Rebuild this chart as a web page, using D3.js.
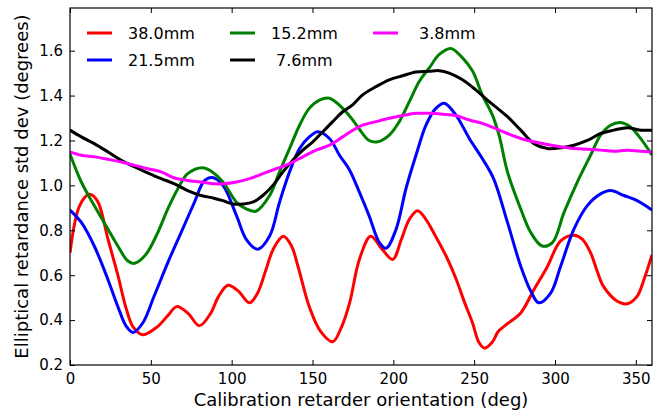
<!DOCTYPE html>
<html>
<head>
<meta charset="utf-8">
<script src="https://cdn.jsdelivr.net/npm/d3@7"></script>
<style>
  body { margin: 0; background: #fff; }
  text { font-family: "DejaVu Sans", sans-serif; }
</style>
</head>
<body>
<svg id="chart" width="660" height="416"></svg>
<script>
// --------------------------------------------------------------------------------------
// data: [orientation deg, std dev deg]
// --------------------------------------------------------------------------------------
var labels = ["38.0mm", "21.5mm", "15.2mm", " 7.6mm", " 3.8mm"];
var colors = ["#ff0000", "#0000ff", "#008000", "#000000", "#ff00ff"];

var red = [[0,0.70],[6,0.91],[12,0.96],[17,0.93],[23.5,0.76],[29.6,0.60],[34.8,0.45],[39,0.37],[45,0.335],
  [54,0.37],[60.5,0.42],[66,0.46],[73,0.43],[80,0.375],[87,0.43],[91.5,0.50],[97.7,0.555],[104,0.53],
  [111,0.477],[116,0.52],[121,0.62],[126,0.72],[132,0.773],[137,0.73],[141,0.64],[148,0.46],[155,0.35],
  [162.5,0.304],[168,0.37],[173,0.478],[179,0.67],[186,0.773],[193,0.716],[199.6,0.67],[205,0.76],
  [210,0.85],[215,0.887],[220,0.85],[226,0.775],[233,0.68],[239,0.58],[244,0.48],[249,0.387],[253,0.30],
  [256.5,0.275],[261,0.30],[265,0.35],[270.6,0.384],[278.8,0.432],[287,0.536],[295,0.634],[303.5,0.753],
  [311.7,0.778],[317,0.76],[322,0.70],[326,0.62],[330,0.55],[338.5,0.484],[344.7,0.473],[350.8,0.506],
  [355,0.58],[360,0.69]];

var blue = [[0,0.89],[7,0.835],[15,0.73],[23.5,0.58],[29.6,0.46],[34.8,0.372],[39,0.345],[45,0.387],
  [52,0.506],[60.5,0.656],[68.7,0.79],[77,0.925],[83,1.02],[88,1.035],[94.6,1.0],[103,0.865],[109,0.76],
  [116,0.716],[123.5,0.775],[129.6,0.925],[135.8,1.06],[142,1.164],[148,1.216],[153.3,1.239],[160.5,1.209],
  [166.7,1.134],[172.8,1.07],[179,0.97],[185,0.865],[191.4,0.745],[195.5,0.72],[201.7,0.805],[207.8,0.985],
  [214,1.134],[220.2,1.268],[226.3,1.343],[231.5,1.366],[238.7,1.313],[247,1.209],[255,1.12],[262,1.03],
  [270.6,0.835],[278.8,0.64],[285,0.529],[290,0.477],[297.3,0.52],[303.5,0.64],[311.7,0.805],[320,0.91],
  [328.2,0.962],[334.4,0.977],[342.6,0.955],[350.8,0.932],[360,0.89]];

var green = [[0,1.14],[7,1.015],[15,0.91],[23.5,0.805],[29.6,0.73],[35.8,0.663],[40,0.653],[47,0.693],
  [54.3,0.79],[60.5,0.895],[66.7,0.985],[72.8,1.052],[82,1.079],[88,1.06],[94.6,1.015],[103,0.925],
  [109,0.895],[115,0.885],[123.5,0.955],[129.6,1.06],[135.8,1.164],[142,1.268],[148,1.343],[154.3,1.38],
  [160.5,1.388],[168.7,1.343],[175,1.29],[179,1.25],[185,1.2],[190.3,1.194],[197.5,1.224],[203.7,1.284],
  [209.9,1.373],[216,1.463],[222.2,1.523],[228.4,1.583],[235.6,1.61],[242.8,1.568],[249,1.509],[255,1.403],
  [261.3,1.313],[265.4,1.224],[270.6,1.06],[278.8,0.895],[285,0.79],[292,0.73],[298.4,0.745],[305.6,0.88],
  [313.8,1.015],[322,1.134],[328.2,1.224],[334.4,1.268],[340.6,1.28],[346.7,1.26],[352.9,1.209],[360,1.135]];

var black = [[0,1.246],[7,1.216],[15,1.186],[23.5,1.149],[31.7,1.112],[40,1.082],[48,1.056],[56.4,1.03],
  [64.6,1.007],[72.8,0.977],[81,0.955],[89,0.943],[94.6,0.932],[100.8,0.917],[107,0.917],[113,0.925],
  [119.3,0.955],[125.5,1.0],[131.7,1.06],[137.8,1.112],[144,1.157],[150.2,1.194],[156.4,1.239],[162.5,1.284],
  [168.7,1.328],[175,1.36],[181,1.403],[189.3,1.44],[197.5,1.47],[205.7,1.488],[214,1.505],[222,1.508],
  [228.4,1.511],[234.6,1.5],[242.8,1.47],[251,1.425],[259.3,1.373],[265,1.34],[270.6,1.306],[278.8,1.246],
  [287,1.186],[295.3,1.164],[303.5,1.167],[311.7,1.179],[320,1.2],[328.2,1.231],[336.4,1.246],[344.7,1.257],
  [352.9,1.246],[360,1.246]];

var magenta = [[0,1.149],[7,1.134],[15,1.127],[23.5,1.116],[31.7,1.104],[40,1.089],[48,1.074],[56.4,1.06],
  [64.6,1.033],[72.8,1.022],[81,1.015],[89,1.007],[94.6,1.007],[103,1.015],[111,1.03],[119.3,1.052],
  [127.5,1.074],[135.8,1.097],[144,1.127],[152.3,1.157],[160.5,1.179],[168.7,1.216],[176,1.25],[181,1.268],
  [189.3,1.284],[197.5,1.299],[205.7,1.311],[214,1.321],[222,1.321],[230.5,1.317],[238.7,1.311],[247,1.291],
  [255,1.276],[263,1.254],[270.6,1.231],[278.8,1.209],[287,1.194],[295.3,1.182],[303.5,1.172],[311.7,1.164],
  [320,1.161],[328.2,1.157],[336.4,1.152],[344.7,1.157],[352.9,1.152],[360,1.149]];

var x_ticks = [0, 50, 100, 150, 200, 250, 300, 350];
var y_ticks = [0.2, 0.4, 0.6, 0.8, 1.0, 1.2, 1.4, 1.6];

var series = [red, blue, green, black, magenta];
// --------------------------------------------------------------------------------------

var margin = {top: 8, right: 8, bottom: 51, left: 70};
var width = 660 - margin.left - margin.right;
var height = 416 - margin.top - margin.bottom;

var x = d3.scaleLinear().domain([0, 360]).range([0, width]);
var y = d3.scaleLinear().domain([0.2, 1.79]).range([height, 0]);

var svg = d3.select("#chart")
            .append("g")
            .attr("transform", "translate(" + margin.left + "," + margin.top + ")");

// ==================================================
// lines
var line = d3.line()
             .x(function(d) { return x(d[0]); })
             .y(function(d) { return y(d[1]); })
             .curve(d3.curveCatmullRom.alpha(0.5));

svg.append("defs").append("clipPath").attr("id", "clip")
   .append("rect").attr("width", width).attr("height", height);

svg.append("g")
   .attr("clip-path", "url(#clip)")
   .selectAll("path")
   .data(series)
   .enter()
   .append("path")
   .attr("d", line)
   .style("fill", "none")
   .style("stroke", function(d, i) { return colors[i]; })
   .style("stroke-width", 3)
   .style("stroke-linejoin", "round");

// ==================================================
// axes, ticks pointing inwards on all four sides
var x_axis = svg.append("g")
                .attr("transform", "translate(0," + height + ")")
                .call(d3.axisBottom(x).tickValues(x_ticks).tickSize(-5).tickPadding(8));

var x_top = svg.append("g")
               .call(d3.axisTop(x).tickValues(x_ticks).tickSize(-5).tickFormat(""));

var y_axis = svg.append("g")
                .call(d3.axisLeft(y).tickValues(y_ticks).tickSize(-5).tickPadding(7).tickFormat(d3.format(".1f")));

var y_right = svg.append("g")
                 .attr("transform", "translate(" + width + ",0)")
                 .call(d3.axisRight(y).tickValues(y_ticks).tickSize(-5).tickFormat(""));

svg.selectAll(".domain").remove();
svg.selectAll(".tick line").style("stroke", "#000").style("stroke-width", 1);
svg.selectAll(".tick text").style("font-size", "15px").style("fill", "#000")
   .style("font-family", "DejaVu Sans");

svg.append("rect")
   .attr("width", width)
   .attr("height", height)
   .style("fill", "none")
   .style("stroke", "#000")
   .style("stroke-width", 1.2);

// ==================================================
// axis labels
svg.append("text")
   .attr("x", width / 2)
   .attr("y", height + 41)
   .attr("text-anchor", "middle")
   .style("font-size", "18px")
   .text("Calibration retarder orientation (deg)");

svg.append("text")
   .attr("transform", "rotate(-90)")
   .attr("x", -height / 2)
   .attr("y", -42)
   .attr("text-anchor", "middle")
   .style("font-size", "18px")
   .text("Elliptical retardance std dev (degrees)");

// ==================================================
// legend, filled column by column
var legend = svg.append("g")
                .selectAll("g")
                .data(labels)
                .enter()
                .append("g")
                .attr("transform", function(d, i) {
                  var col = Math.floor(i / 2), row = i % 2;
                  return "translate(" + (17 + col * 143) + "," + (25 + row * 27) + ")";
                });

legend.append("line")
      .attr("x1", 0)
      .attr("x2", 25)
      .style("stroke", function(d, i) { return colors[i]; })
      .style("stroke-width", 3);

legend.append("text")
      .attr("x", 41)
      .attr("dy", "0.36em")
      .style("font-size", "16px")
      .style("white-space", "pre")
      .text(function(d) { return d; });
</script>
</body>
</html>
